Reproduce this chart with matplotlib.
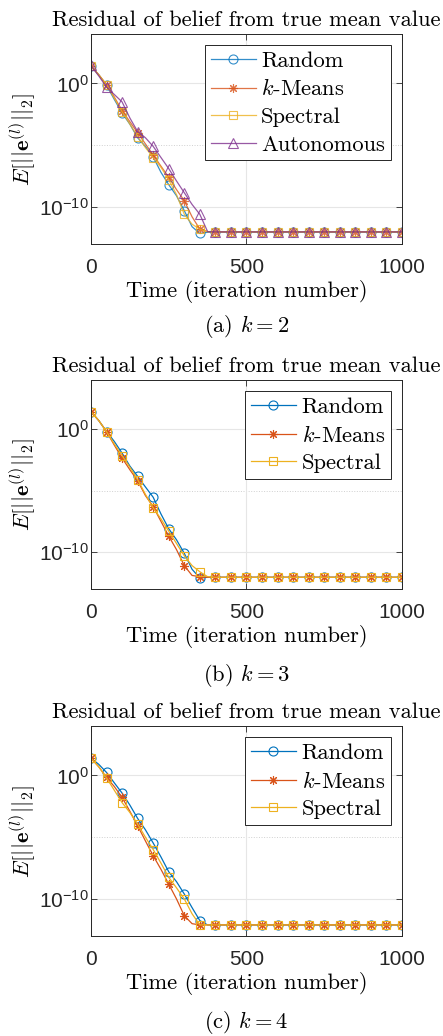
import numpy as np
import matplotlib
matplotlib.use('Agg')
import matplotlib.pyplot as plt

plt.rcParams['mathtext.fontset'] = 'cm'
plt.rcParams['axes.formatter.use_mathtext'] = True

# iteration grid of the curves (markers every other point -> every 50 iterations)
iters = np.arange(0, 1001, 25)

# log10 of E[||e||_2]
# (a) k = 2
a_random = [1.37, 0.70, -0.16, -1.30, -2.40, -3.30, -4.40, -5.10, -5.95, -7.20, -8.20, -9.10,
            -10.30, -11.60, -12.15, -12.05, -12.04, -12.04, -12.04, -12.04, -12.04, -12.04,
            -12.04, -12.04, -12.04, -12.04, -12.04, -12.04, -12.04, -12.04, -12.04, -12.04,
            -12.04, -12.04, -12.04, -12.04, -12.04, -12.04, -12.04, -12.04, -12.04]
a_kmeans = [1.40, 0.70, -0.10, -1.10, -2.20, -3.10, -4.00, -4.90, -5.80, -6.70, -7.60, -8.60,
            -9.50, -10.80, -11.80, -12.00, -12.02, -12.02, -12.02, -12.02, -12.02, -12.02,
            -12.02, -12.02, -12.02, -12.02, -12.02, -12.02, -12.02, -12.02, -12.02, -12.02,
            -12.02, -12.02, -12.02, -12.02, -12.02, -12.02, -12.02, -12.02, -12.02]
a_spectral = [1.40, 0.70, -0.10, -1.20, -2.30, -3.30, -4.30, -5.20, -6.00, -6.80, -7.80, -9.00,
              -10.60, -11.40, -11.80, -12.00, -12.02, -12.02, -12.02, -12.02, -12.02, -12.02,
              -12.02, -12.02, -12.02, -12.02, -12.02, -12.02, -12.02, -12.02, -12.02, -12.02,
              -12.02, -12.02, -12.02, -12.02, -12.02, -12.02, -12.02, -12.02, -12.02]
a_auto = [1.45, 0.60, -0.30, -0.90, -1.50, -2.80, -3.90, -4.40, -5.10, -6.00, -6.90, -7.90,
          -8.85, -9.80, -10.60, -12.00, -12.02, -12.02, -12.02, -12.02, -12.02, -12.02,
          -12.02, -12.02, -12.02, -12.02, -12.02, -12.02, -12.02, -12.02, -12.02, -12.02,
          -12.02, -12.02, -12.02, -12.02, -12.02, -12.02, -12.02, -12.02, -12.02]
# (b) k = 3
b_random = [1.43, 0.70, -0.19, -1.00, -1.95, -3.00, -3.84, -4.70, -5.54, -6.90, -8.10, -9.00,
            -10.10, -11.40, -12.10, -12.05, -12.05, -12.05, -12.05, -12.05, -12.05, -12.05,
            -12.05, -12.05, -12.05, -12.05, -12.05, -12.05, -12.05, -12.05, -12.05, -12.05,
            -12.05, -12.05, -12.05, -12.05, -12.05, -12.05, -12.05, -12.05, -12.05]
b_kmeans = [1.43, 0.70, -0.20, -1.30, -2.35, -3.30, -4.20, -5.40, -6.30, -7.50, -8.70, -9.80,
            -11.10, -11.90, -12.00, -12.05, -12.05, -12.05, -12.05, -12.05, -12.05, -12.05,
            -12.05, -12.05, -12.05, -12.05, -12.05, -12.05, -12.05, -12.05, -12.05, -12.05,
            -12.05, -12.05, -12.05, -12.05, -12.05, -12.05, -12.05, -12.05, -12.05]
b_spectral = [1.43, 0.70, -0.20, -1.20, -2.15, -3.10, -4.10, -5.30, -6.40, -7.30, -8.30, -9.30,
              -10.30, -11.10, -11.60, -12.00, -12.05, -12.05, -12.05, -12.05, -12.05, -12.05,
              -12.05, -12.05, -12.05, -12.05, -12.05, -12.05, -12.05, -12.05, -12.05, -12.05,
              -12.05, -12.05, -12.05, -12.05, -12.05, -12.05, -12.05, -12.05, -12.05]
# (c) k = 4
c_random = [1.40, 0.90, 0.24, -0.60, -1.43, -2.40, -3.48, -4.40, -5.47, -6.60, -7.80, -8.60,
            -9.60, -10.70, -11.75, -12.10, -12.10, -12.10, -12.10, -12.10, -12.10, -12.10,
            -12.10, -12.10, -12.10, -12.10, -12.10, -12.10, -12.10, -12.10, -12.10, -12.10,
            -12.10, -12.10, -12.10, -12.10, -12.10, -12.10, -12.10, -12.10, -12.10]
c_kmeans = [1.40, 0.70, -0.16, -0.90, -1.78, -2.90, -4.07, -5.30, -6.50, -7.60, -8.80, -10.00,
            -11.35, -12.00, -12.10, -12.10, -12.10, -12.10, -12.10, -12.10, -12.10, -12.10,
            -12.10, -12.10, -12.10, -12.10, -12.10, -12.10, -12.10, -12.10, -12.10, -12.10,
            -12.10, -12.10, -12.10, -12.10, -12.10, -12.10, -12.10, -12.10, -12.10]
c_spectral = [1.40, 0.70, -0.20, -1.20, -2.20, -3.00, -3.94, -5.00, -6.00, -7.10, -8.25, -9.10,
              -10.00, -11.20, -12.10, -12.10, -12.10, -12.10, -12.10, -12.10, -12.10, -12.10,
              -12.10, -12.10, -12.10, -12.10, -12.10, -12.10, -12.10, -12.10, -12.10, -12.10,
              -12.10, -12.10, -12.10, -12.10, -12.10, -12.10, -12.10, -12.10, -12.10]

panels = [
    ('(a) $k=2$', [('Random', a_random), ('$k$-Means', a_kmeans),
                   ('Spectral', a_spectral), ('Autonomous', a_auto)]),
    ('(b) $k=3$', [('Random', b_random), ('$k$-Means', b_kmeans), ('Spectral', b_spectral)]),
    ('(c) $k=4$', [('Random', c_random), ('$k$-Means', c_kmeans), ('Spectral', c_spectral)]),
]

styles = {
    'Random': ('#0072BD', 'o', 6.5),
    '$k$-Means': ('#D95319', (8, 2, 0), 6.5),
    'Spectral': ('#EDB120', 's', 6),
    'Autonomous': ('#7E2F8E', '^', 7),
}

rects = [
    [0.2054, 0.7645, 0.7020, 0.2027],
    [0.2054, 0.4315, 0.7020, 0.2017],
    [0.2054, 0.0965, 0.7020, 0.2027],
]
caption_y = [0.6853, 0.3475, 0.0135]

serif = 'cmr10'
sans = 'Liberation Sans'
fs = 16.2

fig = plt.figure(figsize=(4.43, 10.36), dpi=100)

for (caption, series), rect, cy in zip(panels, rects, caption_y):
    ax = fig.add_axes(rect)
    alpha = 0.8 if len(series) == 4 else 1.0
    for name, vals in series:
        color, marker, ms = styles[name]
        ax.semilogy(iters, 10.0 ** np.array(vals), color=color, lw=0.9, alpha=alpha,
                    marker=marker, markevery=2, markersize=ms,
                    markerfacecolor='none', markeredgecolor=color, markeredgewidth=0.8,
                    label=name)

    ax.set_xlim(0, 1000)
    ax.set_ylim(1e-13, 1e4)
    ax.set_xticks([0, 500, 1000])
    ax.set_xticklabels(['0', '500', '1000'], fontfamily=sans, fontsize=15)
    ax.set_yticks([1e-10, 1e0])
    ax.set_yticklabels([r'$\mathregular{10^{-10}}$', r'$\mathregular{10^{0}}$'],
                       fontfamily=sans, fontsize=15)
    ax.minorticks_off()
    ax.tick_params(direction='in', top=True, right=True, length=4, width=0.6,
                   color='#262626', labelcolor='#262626')
    ax.tick_params(axis='x', pad=10)
    ax.tick_params(axis='y', pad=1.5)

    ax.grid(True, which='major', color='#e6e6e6', lw=0.8)
    ax.axhline(1e-5, color='#d0d0d0', lw=0.7, ls=':', zorder=0)
    ax.set_axisbelow(True)
    for sp in ax.spines.values():
        sp.set_color('#262626')
        sp.set_linewidth(0.7)

    ax.set_title('Residual of belief from true mean value', fontfamily=serif,
                 fontsize=fs, pad=6)
    ax.set_xlabel('Time (iteration number)', fontfamily=serif, fontsize=fs, labelpad=2)
    ax.set_ylabel(r'$E[||\mathbf{e}^{(l)}||_2]$', fontsize=fs, labelpad=1)

    leg = ax.legend(loc='upper right', prop={'family': serif, 'size': fs},
                    fancybox=False, edgecolor='#262626', framealpha=1,
                    handlelength=2.0, borderpad=0.25, labelspacing=0.35,
                    handletextpad=0.25, borderaxespad=0.5)
    leg.get_frame().set_linewidth(0.7)

    fig.text(0.5564, cy, caption, ha='center', va='center', fontfamily=serif, fontsize=fs)

fig.savefig('out.png', dpi=100, facecolor='white')
